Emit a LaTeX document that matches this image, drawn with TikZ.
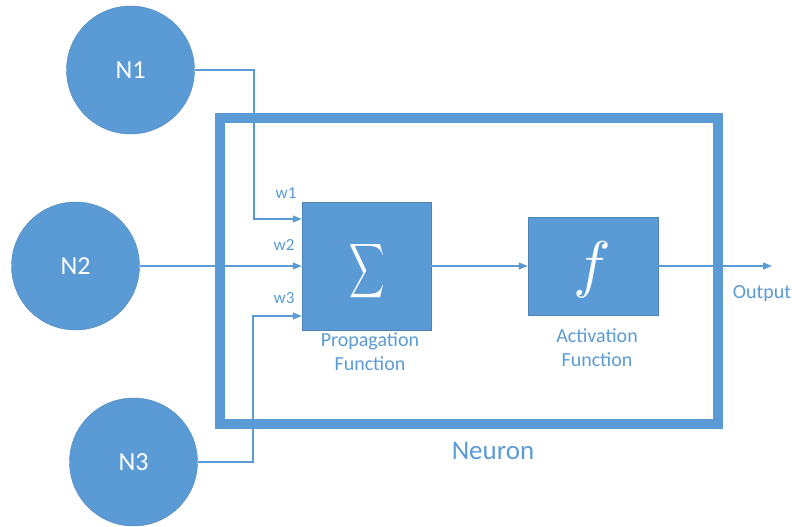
\documentclass[tikz,border=0pt]{standalone}
\usepackage{fontspec}
\usepackage{graphicx}
\setmainfont{Carlito}
\usetikzlibrary{arrows.meta}
\definecolor{oblue}{HTML}{5B9BD5}
\begin{document}
\begin{tikzpicture}[x=1pt,y=-1pt,
  neuronc/.style={circle,fill=oblue,draw=oblue!85!black,line width=0.4pt,minimum size=128pt,inner sep=0pt,text=white,font=\fontsize{26}{28}\selectfont},
  fbox/.style={rectangle,fill=oblue,draw=oblue!85!black,line width=0.4pt,inner sep=0pt,text=white},
  conn/.style={draw=oblue,line width=1.3pt,-{Triangle[length=9pt,width=7pt]}},
  lbl/.style={text=oblue,font=\fontsize{20}{24}\selectfont,inner sep=0pt,align=center},
  wlbl/.style={text=oblue,font=\fontsize{17}{20}\selectfont,inner sep=0pt}]
\useasboundingbox (0,0) rectangle (792,527);
% frame
\node[draw=oblue,line width=10pt,minimum width=498.5pt,minimum height=306.5pt,inner sep=0pt] (neuron) at (468.75,270.75) {};
% input neurons
\node[neuronc] (N1) at (130.5,70) {N1};
\node[neuronc] (N2) at (75.5,266) {N2};
\node[neuronc] (N3) at (133.5,462) {N3};
% boxes
\node[fbox,minimum width=129pt,minimum height=128pt] (sigma) at (366.5,266) {};
\node[text=white,inner sep=0pt] (sigsym) at (367,271) {\scalebox{2.45}[3.8]{$\displaystyle\sum$}};
\node[fbox,minimum width=130pt,minimum height=98pt] (act) at (593,266) {};
\node[text=white,inner sep=0pt] (fsym) at (592,270) {\scalebox{6.3}{$f$}};
% coordinates
\coordinate (k1) at (254,219);
\coordinate (k3) at (253,316);
\coordinate (out) at (772,266);
% connectors
\draw[conn] (N1.east) -| (k1) -- (k1 -| sigma.west);
\draw[conn] (N2.east) -- (sigma.west);
\draw[conn] (N3.east) -| (k3) -- (k3 -| sigma.west);
\draw[conn] (sigma.east) -- (act.west);
\draw[conn] (act.east) -- (out);
% labels
\node[wlbl] (w1) at (286,193) {w1};
\node[wlbl] (w2) at (284,245) {w2};
\node[wlbl] (w3) at (284,298) {w3};
\node[lbl] (plbl) at (370,352) {Propagation\\Function};
\node[lbl] (albl) at (597,348) {Activation\\Function};
\node[lbl] (olbl) at (762,294) {Output};
\node[text=oblue,font=\fontsize{27}{30}\selectfont,inner sep=0pt] (nlbl) at (493,451) {Neuron};
\end{tikzpicture}
\end{document}
